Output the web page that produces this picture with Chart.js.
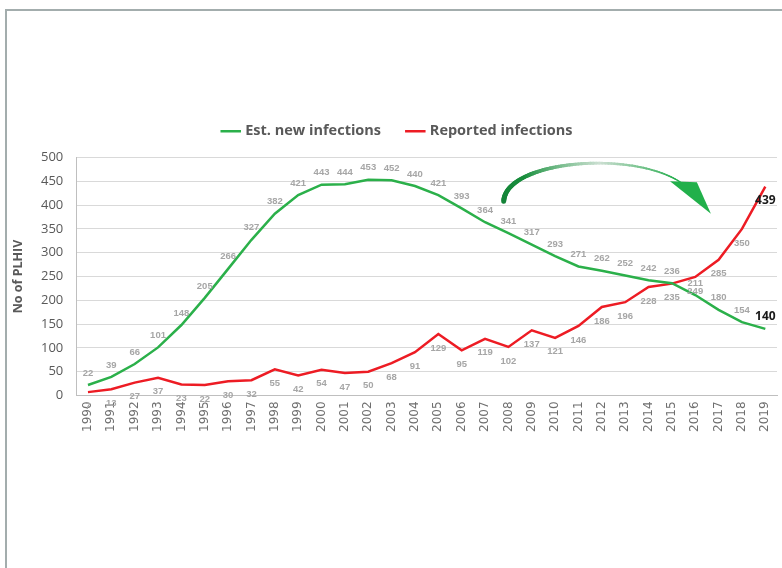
<!DOCTYPE html>
<html>
<head>
<meta charset="utf-8">
<script src="https://cdn.jsdelivr.net/npm/chart.js@4/dist/chart.umd.min.js"></script>
<style>
  html, body { margin: 0; padding: 0; background: #fff; }
  #wrap { position: relative; width: 782px; height: 568px; overflow: hidden; }
  #frame { position: absolute; left: 5px; top: 9px; width: 800px; height: 600px;
           border-top: 2px solid #a3adad; border-left: 2px solid #a3adad; }
  canvas { position: absolute; left: 0; top: 0; }
</style>
</head>
<body>
<div id="wrap">
  <div id="frame"></div>
  <canvas id="chart" width="782" height="568"></canvas>
</div>
<script>
var years = ["1990","1991","1992","1993","1994","1995","1996","1997","1998","1999",
             "2000","2001","2002","2003","2004","2005","2006","2007","2008","2009",
             "2010","2011","2012","2013","2014","2015","2016","2017","2018","2019"];
var estNew = [22,39,66,101,148,205,266,327,382,421,443,444,453,452,440,421,393,364,341,317,
              293,271,262,252,242,236,211,180,154,140];
var reported = [7,13,27,37,23,22,30,32,55,42,54,47,50,68,91,129,95,119,102,137,
                121,146,186,196,228,235,249,285,350,439];
var yTicks = [0,50,100,150,200,250,300,350,400,450,500];

// value labels: green above the line, red below, last point dark
var valueLabels = {
  id: "valueLabels",
  afterDatasetsDraw: function(chart) {
    var ctx = chart.ctx;
    ctx.save();
    ctx.textAlign = "center";
    ctx.textBaseline = "middle";
    chart.data.datasets.forEach(function(ds, di) {
      var meta = chart.getDatasetMeta(di);
      meta.data.forEach(function(pt, i) {
        var last = i === ds.data.length - 1;
        ctx.font = last ? "bold 12px 'Open Sans'" : "bold 9.5px 'Liberation Sans'";
        ctx.fillStyle = last ? "#1a1a1a" : "#a6a6a6";
        var dy = di === 0 ? -12 : 14;
        ctx.fillText(String(ds.data[i]), pt.x, pt.y + dy);
      });
    });
    ctx.restore();
  }
};

// curved arrow annotation (in data space)
var curveArrow = {
  id: "curveArrow",
  afterDatasetsDraw: function(chart) {
    var xs = chart.scales.x, ys = chart.scales.y, ctx = chart.ctx;
    function P(i, v) { return [xs.getPixelForValue(i), ys.getPixelForValue(v)]; }
    var p0 = P(17.80, 408), p1 = P(17.89, 496), p2 = P(23.63, 518), p3 = P(25.56, 441);
    var n = 80, prev = p0;
    ctx.save();
    ctx.lineCap = "round";
    for (var k = 1; k <= n; k++) {
      var t = k / n, u = 1 - t;
      var x = u*u*u*p0[0] + 3*u*u*t*p1[0] + 3*u*t*t*p2[0] + t*t*t*p3[0];
      var y = u*u*u*p0[1] + 3*u*u*t*p1[1] + 3*u*t*t*p2[1] + t*t*t*p3[1];
      ctx.lineWidth = 5 - 3.8 * t;
      // dark green -> pale near the top -> green again
      var w = Math.max(0, 1 - Math.abs(t - 0.6) / 0.35);
      var base = [Math.round(20 + 14 * t), Math.round(130 + 46 * t), Math.round(55 + 20 * t)];
      var c = base.map(function(ch) { return Math.round(ch + (235 - ch) * w * 0.85); });
      ctx.strokeStyle = "rgb(" + c.join(",") + ")";
      ctx.beginPath();
      ctx.moveTo(prev[0], prev[1]);
      ctx.lineTo(x, y);
      ctx.stroke();
      prev = [x, y];
    }
    var a = P(24.92, 450), b = P(26.07, 448), c2 = P(26.67, 382);
    ctx.fillStyle = "#22b04b";
    ctx.beginPath();
    ctx.moveTo(a[0], a[1]);
    ctx.lineTo(b[0], b[1]);
    ctx.lineTo(c2[0], c2[1]);
    ctx.closePath();
    ctx.fill();
    ctx.restore();
  }
};

var legendTweak = {
  id: "legendTweak",
  beforeInit: function(chart) {
    var lg = chart.legend;
    var fit = lg.fit, draw = lg.draw;
    lg.fit = function() {
      fit.call(lg);
      this.height += 9;
    };
    lg.draw = function() {
      chart.ctx.save();
      chart.ctx.translate(5, 0);
      draw.call(lg);
      chart.ctx.restore();
    };
  }
};

new Chart(document.getElementById("chart"), {
  type: "line",
  data: {
    labels: years,
    datasets: [
      {
        label: "Est. new infections",
        data: estNew,
        borderColor: "#2bb04a",
        backgroundColor: "#2bb04a",
        borderWidth: 2.5,
        pointRadius: 0,
        tension: 0
      },
      {
        label: "Reported infections",
        data: reported,
        borderColor: "#ed1c24",
        backgroundColor: "#ed1c24",
        borderWidth: 2.5,
        pointRadius: 0,
        tension: 0
      }
    ]
  },
  options: {
    responsive: false,
    animation: false,
    layout: { padding: { left: 9, right: 5, top: 97, bottom: 130 } },
    plugins: {
      tooltip: { enabled: false },
      legend: {
        position: "top",
        labels: {
          usePointStyle: true,
          pointStyle: "line",
          boxWidth: 18,
          padding: 27,
          color: "#595959",
          font: { family: "'Open Sans'", size: 14.5, weight: "bold" }
        }
      }
    },
    scales: {
      x: {
        offset: true,
        grid: { display: false, drawTicks: false },
        border: { display: true, color: "#bfbfbf", width: 1 },
        afterFit: function(scale) { scale.paddingRight = 0; },
        ticks: {
          autoSkip: false,
          minRotation: 90,
          maxRotation: 90,
          padding: 6,
          color: "#6f6f6f",
          font: { family: "'DejaVu Sans'", size: 12 }
        }
      },
      y: {
        min: 0,
        max: 500,
        afterBuildTicks: function(axis) {
          axis.ticks = yTicks.map(function(v) { return { value: v }; });
        },
        grid: { color: "#d9d9d9", drawTicks: false },
        border: { display: true, color: "#bfbfbf" },
        ticks: {
          padding: 13,
          color: "#595959",
          font: { family: "'Open Sans'", size: 13 }
        },
        title: {
          display: true,
          text: "No of PLHIV",
          color: "#595959",
          padding: { top: 2, bottom: 2 },
          font: { family: "'Open Sans'", size: 12.5, weight: "bold" }
        }
      }
    }
  },
  plugins: [legendTweak, valueLabels, curveArrow]
});
</script>
</body>
</html>
